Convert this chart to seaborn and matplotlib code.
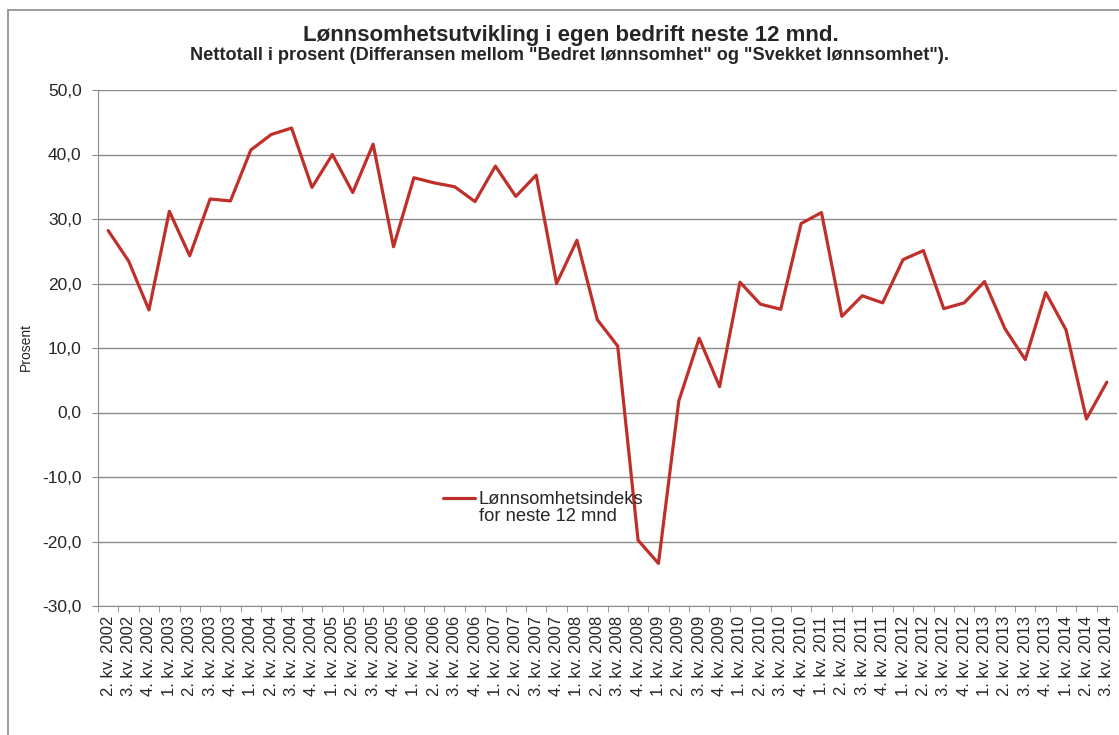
import matplotlib
matplotlib.use("Agg")
import matplotlib.pyplot as plt
from matplotlib.lines import Line2D
from matplotlib.ticker import FuncFormatter, FixedLocator
import seaborn as sns
import numpy as np
import pandas as pd

# kvartaler 2. kv. 2002 - 3. kv. 2014
kvartaler = [f"{q}. kv. {y}" for y in range(2002, 2015) for q in range(1, 5)][1:-1]

indeks = [28.2, 23.5, 15.9, 31.2, 24.3, 33.1, 32.8, 40.7, 43.1, 44.1,
          34.9, 40.0, 34.1, 41.6, 25.7, 36.4, 35.6, 35.0, 32.7, 38.2,
          33.5, 36.8, 20.0, 26.7, 14.4, 10.3, -19.8, -23.4, 1.8, 11.5,
          4.0, 20.2, 16.8, 16.0, 29.3, 31.0, 14.9, 18.1, 17.0, 23.7,
          25.1, 16.1, 17.0, 20.3, 13.0, 8.2, 18.6, 12.8, -1.0, 4.7]

df = pd.DataFrame({"pos": np.arange(len(kvartaler)), "kvartal": kvartaler, "indeks": indeks})

sns.set_style("white")
plt.rcParams["font.family"] = ["Liberation Sans", "DejaVu Sans"]

W, H = 1119, 735
fig = plt.figure(figsize=(W / 100, H / 100), dpi=100)
ax = fig.add_axes([98 / W, 1 - 606 / H, 1019 / W, 516 / H])

sns.lineplot(data=df, x="pos", y="indeks", ax=ax, color="#C0302A", linewidth=2.3,
             label="Lønnsomhetsindeks\nfor neste 12 mnd")

ax.set_xlim(-0.5, len(kvartaler) - 0.5)
ax.set_ylim(-30, 50)
ax.set_yticks(np.arange(-30, 51, 10))
ax.yaxis.set_major_formatter(FuncFormatter(lambda v, p: f"{v:.1f}".replace(".", ",")))
ax.grid(axis="y", color="#8c8c8c", linewidth=1)
ax.set_axisbelow(True)

ax.set_xticks(df["pos"])
ax.set_xticklabels(kvartaler, rotation=90, fontsize=12)
ax.xaxis.set_minor_locator(FixedLocator(np.arange(-0.5, len(kvartaler), 1)))
ax.tick_params(axis="x", which="major", length=0, pad=7)
ax.tick_params(axis="x", which="minor", length=4, color="#8c8c8c", bottom=True)
ax.tick_params(axis="y", length=4.3, pad=7.5, color="#8c8c8c", left=True, labelsize=12.5)

for s in ["top", "right"]:
    ax.spines[s].set_visible(False)
ax.spines["left"].set_color("#8c8c8c")
ax.spines["bottom"].set_color("#8c8c8c")

ax.set_xlabel("")
ax.set_ylabel("Prosent", fontsize=10)
ax.yaxis.set_label_coords((33 - 98) / 1019, (606 - 347) / 516)

leg = ax.legend(loc="center left", bbox_to_anchor=((443 - 98) / 1019, (606 - 508) / 516),
                frameon=False, fontsize=13.2, handlelength=1.75, handletextpad=0.2,
                borderpad=0, borderaxespad=0)
for t in leg.get_texts():
    t.set_linespacing(1.0)
# strek på høyde med første tekstlinje
for ln in leg.get_lines():
    ln.set_ydata(np.asarray(ln.get_ydata()) + 7)

fig.text(571 / W, 1 - 41 / H, "Lønnsomhetsutvikling i egen bedrift neste 12 mnd.",
         ha="center", va="baseline", fontsize=16, fontweight="bold")
fig.text(570 / W, 1 - 60 / H,
         'Nettotall i prosent (Differansen mellom "Bedret lønnsomhet" og "Svekket lønnsomhet").',
         ha="center", va="baseline", fontsize=13.1, fontweight="bold")

# ramme rundt diagramområdet
fig.add_artist(Line2D([8 / W, 1], [1 - 10 / H] * 2, color="#8c8c8c", linewidth=1.2))
fig.add_artist(Line2D([8 / W] * 2, [0, 1 - 10 / H], color="#8c8c8c", linewidth=1.2))

fig.savefig("out.png", dpi=100)
